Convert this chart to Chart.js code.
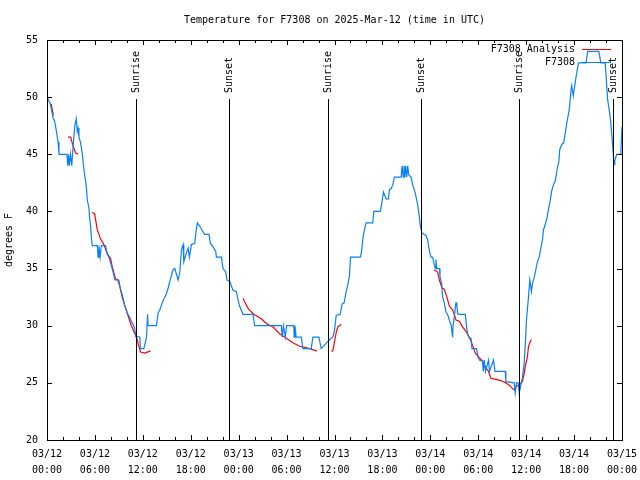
<!DOCTYPE html>
<html>
<head>
<meta charset="utf-8">
<title>Temperature for F7308</title>
<script src="https://cdn.jsdelivr.net/npm/chart.js@4.4.1/dist/chart.umd.min.js"></script>
<style>
  html, body { margin: 0; padding: 0; background: #fff; }
  canvas { display: block; }
</style>
</head>
<body>
<canvas id="temp-chart" width="640" height="480"></canvas>
<script>
// hours since 03/12 00:00 UTC
var obsHours = [0, 0.375, 0.54, 0.75, 0.96, 1.16, 1.38, 1.5, 2.5, 2.6, 2.7, 2.8, 2.95, 3.1, 3.25, 3.46, 3.66, 3.79, 3.9, 4.0,
  4.21, 4.41, 4.63, 4.84, 4.96, 5.04, 5.25, 5.34, 5.46, 5.54, 5.66, 6.3, 6.4, 6.5, 6.65, 6.8, 7.33, 7.54, 7.75, 7.96,
  8.16, 8.38, 8.5, 9.0, 9.13, 9.29, 9.54, 9.71, 9.91, 10.13, 10.38, 10.54, 10.79, 10.96, 11.13, 11.63, 11.68, 12.13, 12.46, 12.6,
  12.65, 13.71, 13.91, 14.13, 14.33, 14.54, 14.75, 14.96, 15.17, 15.38, 15.79, 16.0, 16.42, 16.63, 16.83, 17.04, 17.13, 17.38, 17.67, 17.83,
  18.08, 18.5, 18.71, 18.83, 19.13, 19.54, 19.75, 20.29, 20.46, 20.79, 21.13, 21.21, 21.84, 22.04, 22.38, 22.54, 22.88, 23.29, 23.71, 23.91,
  24.13, 24.54, 25.79, 26.0, 29.34, 29.46, 29.6, 29.84, 30.0, 30.9, 30.95, 31.05, 31.2, 31.84, 32.04, 33.09, 33.29, 34.04, 34.34, 35.0,
  35.59, 35.79, 36.0, 36.21, 36.71, 36.96, 37.21, 37.46, 37.67, 37.88, 38.0, 39.25, 39.41, 39.54, 39.75, 39.96, 40.79, 40.92, 41.75, 41.96,
  42.13, 42.46, 42.75, 42.88, 43.09, 43.29, 43.5, 44.34, 44.46, 44.6, 44.7, 44.8, 44.9, 45.04, 45.17, 45.29, 45.59, 45.79, 46.0, 46.21,
  46.41, 46.63, 46.75, 46.96, 47.46, 47.67, 47.79, 47.96, 48.09, 48.29, 48.5, 48.63, 48.7, 48.8, 49.13, 49.21, 49.41, 49.54, 49.75, 49.96,
  50.16, 50.38, 50.59, 50.79, 50.85, 51.21, 51.3, 51.41, 51.54, 52.38, 52.54, 52.67, 52.88, 53.09, 53.21, 53.79, 54.0, 54.13, 54.54, 54.63,
  54.75, 54.9, 55.29, 55.4, 55.92, 56.09, 57.38, 57.46, 58.5, 58.63, 58.79, 59.0, 59.13, 59.34, 59.54, 59.75, 59.88, 60.04, 60.29, 60.46,
  60.66, 60.79, 61.0, 61.21, 61.41, 61.63, 61.84, 62.04, 62.17, 62.4, 62.6, 62.8, 63.0, 63.2, 63.45, 63.66, 63.9, 64.1, 64.2, 64.5,
  64.7, 64.9, 65.15, 65.4, 65.6, 65.7, 65.9, 66.1, 66.3, 66.56, 67.5, 67.7, 69.1, 69.35, 69.9, 70.2, 70.5, 70.7, 70.9, 71.0,
  71.1, 71.35, 71.85, 72.0];
var obsTemps = [50, 49.5, 49, 48.2, 47.9, 47.1, 46.1, 45, 45, 44, 45, 44, 45, 44, 45.5, 47.4, 48.1, 47, 47.3, 46.5,
  46, 45.1, 43.6, 42.6, 41.9, 41, 40.3, 39.4, 38.7, 37.8, 37, 37, 36, 37, 36, 37, 37, 36.3, 36, 35.5,
  35, 34.4, 34, 34, 33.4, 33, 32.4, 31.8, 31.4, 31, 30.7, 30.4, 30.1, 29.8, 29.1, 29, 28, 28, 29, 31,
  30, 30, 31.1, 31.4, 31.8, 32.2, 32.5, 32.8, 33.3, 33.9, 34.9, 35, 34, 34.7, 36.6, 37.1, 35.6, 36.2, 36.8, 36,
  37.1, 37.2, 38.5, 39, 38.7, 38.2, 38, 38, 37.2, 36.9, 36.5, 36, 36, 35, 34.7, 34, 33.9, 33.1, 33, 32.3,
  31.7, 31, 31, 30, 30, 29, 30, 29, 30, 30, 29, 30, 29, 29, 28, 28, 29, 29, 28, 28.5,
  28.9, 29, 29.6, 30.9, 31, 31.9, 32, 33, 33.6, 34.4, 36, 36, 36.6, 37.6, 38.4, 39, 39, 40, 40, 40.9,
  41.7, 41.1, 41.1, 41.9, 42, 42.3, 43, 43, 44, 43, 44, 43, 44, 43, 44, 43.2, 43, 42.3, 41.9, 41.3,
  40.6, 39.5, 38.7, 38.1, 37.9, 37.5, 36.9, 36.3, 36, 36, 35.3, 35, 35.8, 35, 35, 34.3, 33.7, 32.5, 32, 31.2,
  31, 30.5, 30.1, 29, 30, 32, 32, 31.1, 31, 31, 29.9, 29.3, 28.9, 28.9, 28, 28, 27.2, 27, 26.9, 26,
  27, 26, 27, 26, 27, 26, 26, 25.1, 25, 24.1, 25, 25, 24.1, 24.8, 25.5, 26.7, 28.2, 30.5, 32.5, 34,
  33, 33.7, 34.2, 34.9, 35.6, 36, 36.8, 37.5, 38.4, 38.9, 39.4, 40.2, 40.9, 41.8, 42.4, 42.7, 43.8, 44.4, 45.4, 45.9,
  46, 46.9, 48, 48.9, 50.5, 51, 50.1, 51.1, 52, 53, 53, 54, 54, 53, 53, 49.8, 48.4, 46.9, 45.1, 44.1,
  44.5, 45, 45, 47.4];

// analysis runs, null = gap between runs
var anaHours = [0.54, 0.66, 0.79, null,
  2.63, 2.96, 3.16, 3.38, 3.59, 3.88, null,
  5.66, 5.96, 6.29, 6.71, 7.13, 7.54, 7.96, 8.16, 8.59, 8.88, 9.13, 9.41, 9.63, 10.04, 10.46, 10.88, 11.29, 11.5, 11.71, 12.25, 12.96, null,
  24.54, 24.96, 25.29, 25.88, 26.84, 27.46, 28.29, 29.13, 29.96, 30.79, 31.63, 32.88, 33.79, null,
  35.59, 35.79, 36.21, 36.41, 36.84, null,
  48.5, 48.91, 49.13, 49.46, 49.75, 50.16, 50.38, 50.79, 51.0, 51.21, 51.63, 52.04, 52.46, 52.88, 53.29, 53.63, 54.13, 54.54, 54.88, 55.29,
  55.59, 56.21, 56.84, 57.46, 57.88, 58.29, 58.5, 58.71, 59.13, 59.34, 59.54, 59.75, 59.88, 60.16, 60.29, 60.5, 60.66];
var anaTemps = [49.4, 48.9, 48.4, null,
  46.5, 46.5, 46, 45.5, 45.1, 45, null,
  39.9, 39.8, 38.4, 37.6, 37.1, 36.3, 35.9, 35.2, 34.1, 34, 33.4, 32.5, 32, 31.1, 30.2, 29.5, 28.8, 28.2, 27.7, 27.6, 27.8, null,
  32.4, 31.8, 31.4, 31, 30.6, 30.2, 29.9, 29.3, 28.9, 28.5, 28.2, 28, 27.8, null,
  27.8, 27.8, 29.4, 29.9, 30.1, null,
  34.9, 34.7, 34, 33.3, 33.2, 32.3, 31.7, 31.4, 31, 30.5, 30.4, 29.9, 29.5, 29, 28.3, 27.6, 27.2, 26.9, 26.4, 26,
  25.4, 25.3, 25.2, 25, 24.8, 24.5, 24.4, 24.7, 24.8, 25, 25.1, 25.8, 26.4, 27.3, 28.2, 28.6, 28.8];

var sunHours = [11.14, 22.79, 35.19, 46.83, 59.1, 70.88];
var sunLabels = ['Sunrise', 'Sunset', 'Sunrise', 'Sunset', 'Sunrise', 'Sunset'];

var tickDates = ['03/12', '03/12', '03/12', '03/12', '03/13', '03/13', '03/13', '03/13', '03/14', '03/14', '03/14', '03/14', '03/15'];
var tickTimes = ['00:00', '06:00', '12:00', '18:00', '00:00', '06:00', '12:00', '18:00', '00:00', '06:00', '12:00', '18:00', '00:00'];

var FONT_FAMILY = '"DejaVu Sans Mono", "Liberation Mono", monospace';
var FONT = '10px ' + FONT_FAMILY;
var BLUE = '#0a80f5';
var RED = '#ff0000';

function toPoints(xs, ys) {
  var pts = [];
  for (var i = 0; i < xs.length; i++) {
    pts.push({ x: xs[i] === null ? pts.length ? pts[pts.length - 1].x : 0 : xs[i], y: ys[i] });
  }
  return pts;
}

////// frame, ticks, title, key and sun markers (gnuplot look) /////////
var gnuplotDecor = {
  id: 'gnuplotDecor',
  afterDatasetsDraw: function (chart) {
    var ctx = chart.ctx;
    var a = chart.chartArea;
    var xs = chart.scales.x;
    var ys = chart.scales.y;
    ctx.save();
    ctx.strokeStyle = '#000';
    ctx.lineWidth = 1;

    // sun lines + rotated labels
    ctx.font = FONT;
    ctx.fillStyle = '#000';
    for (var i = 0; i < sunHours.length; i++) {
      var sx = Math.round(xs.getPixelForValue(sunHours[i])) + 0.5;
      ctx.beginPath();
      ctx.moveTo(sx, 99);
      ctx.lineTo(sx, a.bottom);
      ctx.stroke();
      ctx.save();
      ctx.translate(sx, 93);
      ctx.rotate(-Math.PI / 2);
      ctx.textAlign = 'left';
      ctx.textBaseline = 'middle';
      ctx.fillText(sunLabels[i], 0, 0);
      ctx.restore();
    }

    // border
    ctx.strokeRect(Math.round(a.left) + 0.5, Math.round(a.top) + 0.5,
      Math.round(a.right - a.left), Math.round(a.bottom - a.top));

    // x ticks, major every 6 h, minor every 2 h
    ctx.beginPath();
    for (var h = 0; h <= 72; h += 2) {
      var px = Math.round(xs.getPixelForValue(h)) + 0.5;
      var len = (h % 6 === 0) ? 5 : 3;
      ctx.moveTo(px, a.bottom);
      ctx.lineTo(px, a.bottom - len);
      ctx.moveTo(px, a.top);
      ctx.lineTo(px, a.top + len);
    }
    // y ticks
    for (var v = 20; v <= 55; v += 5) {
      var py = Math.round(ys.getPixelForValue(v)) + 0.5;
      ctx.moveTo(a.left, py);
      ctx.lineTo(a.left + 5, py);
      ctx.moveTo(a.right, py);
      ctx.lineTo(a.right - 5, py);
    }
    ctx.stroke();

    // title
    ctx.textAlign = 'center';
    ctx.textBaseline = 'middle';
    ctx.fillText('Temperature for F7308 on 2025-Mar-12 (time in UTC)', (a.left + a.right) / 2, 20);

    // y title
    ctx.save();
    ctx.translate(9, 240);
    ctx.rotate(-Math.PI / 2);
    ctx.fillText('degrees F', 0, 0);
    ctx.restore();

    // key
    ctx.textAlign = 'right';
    ctx.fillText('F7308 Analysis', 575, 49);
    ctx.fillText('F7308', 575, 62);
    ctx.strokeStyle = RED;
    ctx.beginPath();
    ctx.moveTo(582, 49.5);
    ctx.lineTo(611, 49.5);
    ctx.stroke();
    ctx.strokeStyle = BLUE;
    ctx.beginPath();
    ctx.moveTo(582, 62.5);
    ctx.lineTo(611, 62.5);
    ctx.stroke();

    ctx.restore();
  }
};

const ctx_temp = document.getElementById('temp-chart');
new Chart(ctx_temp, {
  type: 'line',
  data: {
    datasets: [{
      label: 'F7308',
      data: obsHours.map(function (h, i) { return { x: h, y: obsTemps[i] }; }),
      borderColor: BLUE,
      borderWidth: 1.2,
      pointRadius: 0,
      tension: 0,
      fill: false,
      order: 0
    }, {
      label: 'F7308 Analysis',
      data: toPoints(anaHours, anaTemps),
      borderColor: RED,
      borderWidth: 1.2,
      pointRadius: 0,
      tension: 0,
      fill: false,
      spanGaps: false,
      order: 1
    }]
  },
  options: {
    responsive: false,
    animation: false,
    layout: { padding: { left: 0, right: 18, top: 40, bottom: 0 } },
    plugins: {
      legend: { display: false },
      title: { display: false },
      tooltip: { enabled: false }
    },
    scales: {
      x: {
        type: 'linear',
        min: 0,
        max: 72,
        grid: { display: false, drawTicks: false },
        border: { display: false },
        afterFit: function (scale) {
          scale.height = 40;
          scale.paddingLeft = 0;
          scale.paddingRight = 0;
        },
        ticks: {
          stepSize: 6,
          autoSkip: false,
          maxRotation: 0,
          padding: 6,
          color: '#000',
          font: { family: FONT_FAMILY, size: 10, lineHeight: 1.6 },
          callback: function (value) {
            var i = Math.round(value / 6);
            return [tickDates[i], tickTimes[i]];
          }
        }
      },
      y: {
        min: 20,
        max: 55,
        grid: { display: false, drawTicks: false },
        border: { display: false },
        afterFit: function (scale) {
          scale.width = 47;
          scale.paddingTop = 0;
          scale.paddingBottom = 0;
        },
        ticks: {
          stepSize: 5,
          padding: 9,
          color: '#000',
          font: { family: FONT_FAMILY, size: 10 }
        }
      }
    }
  },
  plugins: [gnuplotDecor]
});
</script>
</body>
</html>
